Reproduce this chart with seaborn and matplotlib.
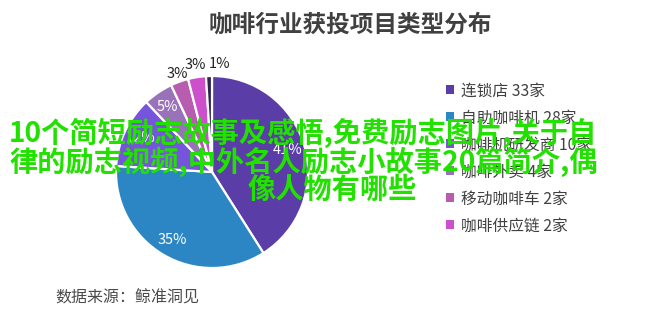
import numpy as np
import matplotlib
matplotlib.use("Agg")
import matplotlib.pyplot as plt
import seaborn as sns

sns.set_theme(style="white")
plt.rcParams['font.family'] = ['Noto Sans CJK SC', 'DejaVu Sans']

# ---- data ----
categories = ["连锁店", "自助咖啡机", "咖啡机研发商", "咖啡外卖", "移动咖啡车", "咖啡供应链", "其他"]
counts = [33, 28, 10, 4, 2, 2, 1]
shares = [41, 35, 12, 5, 3, 3, 1]          # percentages shown on the pie
colors = ["#5a3da6", "#2b86c3", "#7654dc", "#9a72b9", "#b85cb0", "#cc50cc", "#2d2350"]
legend_n = 6                                 # entries visible in the legend

title = "咖啡行业获投项目类型分布"
source = "数据来源：鲸准洞见"
overlay = ["10个简短励志故事及感悟,免费励志图片,关于自",
           "律的励志视频,中外名人励志小故事20篇简介,偶",
           "像人物有哪些"]

W, H = 661, 317
fig = plt.figure(figsize=(W / 100, H / 100), dpi=100)
fig.patch.set_facecolor("white")

# pie axes: centre (212,172) px, radius ~96 px
cx, cy, r = 212, 172, 96
ax = fig.add_axes([(cx - r) / W, (H - cy - r) / H, 2 * r / W, 2 * r / H])
wedges, texts, autotexts = ax.pie(
    shares, colors=colors, startangle=90, counterclock=False,
    autopct=lambda p: f"{p:.0f}%", pctdistance=0.82,
    wedgeprops=dict(edgecolor="white", linewidth=1.6),
    textprops=dict(color="white", fontsize=10.5))
ax.set_xlim(-1, 1)
ax.set_ylim(-1, 1)
ax.set_aspect("equal")

# small slices: labels outside the pie
outside = [(1.08, "center"), (1.13, "center"), (1.13, "left")]
k = 0
for w, t, v in zip(wedges, autotexts, shares):
    if v <= 3:
        rad, ha = outside[k]
        k += 1
        ang = np.deg2rad((w.theta1 + w.theta2) / 2)
        t.set_position((rad * np.cos(ang), rad * np.sin(ang)))
        t.set_ha(ha)
        t.set_color("#222222")

# legend
labels = [f"{c} {n}家" for c, n in zip(categories, counts)]
leg = fig.legend(wedges[:legend_n], labels[:legend_n], loc="upper left",
                 bbox_to_anchor=(440 / W, 1 - 76 / H), frameon=False,
                 fontsize=11.3, handlelength=0.5, handleheight=0.5,
                 handletextpad=0.45, labelspacing=0.64, borderaxespad=0)
for t in leg.get_texts():
    t.set_color("#404040")
for h in leg.legend_handles:
    h.set_edgecolor("none")

# titles
fig.text(350 / W, 1 - 25 / H, title, ha="center", va="center",
         fontsize=17, fontweight="bold", color="#404040")
fig.text(55 / W, 1 - 298 / H, source, ha="left", va="center",
         fontsize=11.5, color="#4a4a4a")

# green overlay text
green = "#22e000"
fig.text(9 / W, 1 - 133 / H, overlay[0], ha="left", va="center",
         fontsize=20.3, fontweight="bold", color=green, zorder=10)
fig.text(9 / W, 1 - 162 / H, overlay[1], ha="left", va="center",
         fontsize=20.3, fontweight="bold", color=green, zorder=10)
fig.text(332 / W, 1 - 190 / H, overlay[2], ha="center", va="center",
         fontsize=20.3, fontweight="bold", color=green, zorder=10)

fig.savefig("out.png", dpi=100)
